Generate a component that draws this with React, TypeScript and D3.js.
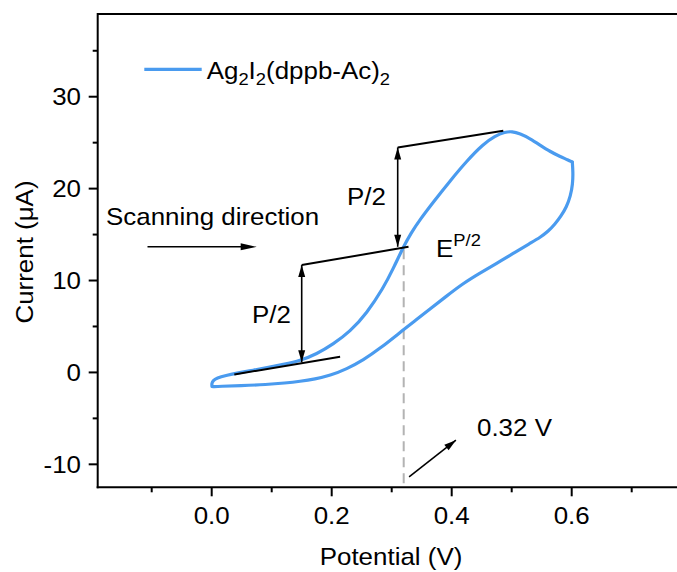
import React from 'react';
import * as d3 from 'd3';

const W = 677;
const H = 572;

// Cyclic voltammogram: forward (anodic) scan then reverse scan
const potential = [
  0.0005, 0.0, 0.0022, 0.0088, 0.0222, 0.0472, 0.0688, 0.0917, 0.1193, 0.1472, 0.175, 0.2027, 0.2305,
  0.2583, 0.286, 0.3027, 0.3193, 0.3322, 0.3472, 0.3693, 0.3972, 0.425, 0.4527, 0.4722, 0.4888, 0.5005,
  0.5138, 0.5305, 0.5472, 0.5638, 0.5805, 0.5938, 0.601,
  0.6022, 0.6017, 0.598, 0.5913, 0.5822, 0.5722, 0.5605, 0.5472, 0.5305, 0.5022, 0.475, 0.4472, 0.4193,
  0.3905, 0.3638, 0.3405, 0.3193, 0.2805, 0.2527, 0.225, 0.1972, 0.1722, 0.1472, 0.1222, 0.0917, 0.0472,
  0.0138, 0.0022,
];
const current = [
  -1.53, -1.21, -0.88, -0.61, -0.34, -0.01, 0.23, 0.51, 0.88, 1.27, 2.0, 3.09, 4.43,
  6.43, 9.18, 11.31, 13.64, 15.17, 16.64, 18.54, 20.83, 23.0, 24.85, 25.72, 26.16, 26.23,
  25.99, 25.45, 24.74, 24.04, 23.49, 23.13, 22.89,
  21.81, 20.5, 19.19, 17.99, 17.01, 16.14, 15.33, 14.68, 14.05, 12.94, 11.87, 10.82, 9.7,
  8.26, 6.9, 5.7, 4.63, 2.6, 1.35, 0.37, -0.34, -0.72, -0.97, -1.15, -1.32, -1.45,
  -1.51, -1.55,
];
const switchIndex = 32; // vertex potential (0.6 V) where the scan reverses

const xTicks = [0.0, 0.2, 0.4, 0.6];
const xMinorTicks = [-0.1, 0.1, 0.3, 0.5, 0.7];
const yTicks = [-10, 0, 10, 20, 30];
const yMinorTicks = [-5, 5, 15, 25, 35];

const seriesName = ['Ag', '2', 'I', '2', '(dppb-Ac)', '2'];

// Annotation geometry in data units [potential, current]
const baseline1 = [[0.0377, -0.22], [0.214, 1.70]];
const halfArrow1 = [[0.15, 11.68], [0.15, 1.1]];
const baseline2 = [[0.15, 11.68], [0.328, 13.67]];
const halfArrow2 = [[0.31, 24.48], [0.31, 13.67]];
const peakLine = [[0.31, 24.48], [0.486, 26.29]];
const ePhalf = 0.32;
const ePhalfTop = 13.4;
const scanArrow = [[-0.107, 13.67], [0.075, 13.67]];
const valueArrow = [[0.329, -11.36], [0.407, -7.37]];

const FONT = '"Liberation Sans", Arial, Helvetica, sans-serif';
const BLUE = '#4A9BEF';
const FS = 24;
const SX = 1.08;

function head(x1: number, y1: number, x2: number, y2: number, len: number, wid: number) {
  const dx = x2 - x1, dy = y2 - y1;
  const L = Math.hypot(dx, dy);
  const ux = dx / L, uy = dy / L;
  const bx = x2 - ux * len, by = y2 - uy * len;
  const px = -uy * wid / 2, py = ux * wid / 2;
  return `${x2},${y2} ${bx + px},${by + py} ${bx - px},${by - py}`;
}

function Txt(props: { x: number; y: number; size?: number; anchor?: string; rot?: number; sx?: number; children: any }) {
  const { x, y, size = FS, anchor = 'start', rot = 0, sx = SX, children } = props;
  return (
    <text
      transform={`translate(${x},${y}) rotate(${rot}) scale(${sx},1)`}
      fontFamily={FONT}
      fontSize={size}
      textAnchor={anchor}
      fill="#000"
    >
      {children}
    </text>
  );
}

export default function App() {
  const x = d3.scaleLinear().domain([-0.19, 0.79]).range([97.7, 685.7]);
  const y = d3.scaleLinear().domain([-12.5, 39]).range([487.3, 14]);
  const pts: [number, number][] = potential.map((p, i) => [p, current[i]]);
  const forward = pts.slice(0, switchIndex + 1);
  const reverse = pts.slice(switchIndex);
  const line = d3
    .line<[number, number]>()
    .x((d) => x(d[0]))
    .y((d) => y(d[1]))
    .curve(d3.curveBasis);

  const L = (a: number[][]) => ({ x1: x(a[0][0]), y1: y(a[0][1]), x2: x(a[1][0]), y2: y(a[1][1]) });
  const dbl = (a: number[][], key: string) => {
    const s = L(a);
    return (
      <g key={key}>
        <line {...s} stroke="#000" strokeWidth={1.6} />
        <polygon points={head(s.x1, s.y1, s.x2, s.y2, 12, 7)} fill="#000" />
        <polygon points={head(s.x2, s.y2, s.x1, s.y1, 12, 7)} fill="#000" />
      </g>
    );
  };

  const x0 = x.range()[0];
  const yb = y.range()[0];
  const yt = y.range()[1];
  const sa = L(scanArrow);
  const va = L(valueArrow);

  return (
    <svg width={W} height={H} style={{ position: 'absolute', left: 0, top: 0, background: '#fff' }}>
      <rect width={W} height={H} fill="#fff" />
      {/* frame */}
      <line x1={x0} y1={yt} x2={W + 10} y2={yt} stroke="#000" strokeWidth={2} />
      <line x1={x0} y1={yt - 1} x2={x0} y2={yb + 1} stroke="#000" strokeWidth={2} />
      <line x1={x0 - 1} y1={yb} x2={W + 10} y2={yb} stroke="#000" strokeWidth={2} />
      {/* x ticks */}
      {xTicks.map((t) => (
        <g key={'xt' + t}>
          <line x1={x(t)} x2={x(t)} y1={yb} y2={yb + 9} stroke="#000" strokeWidth={2} />
          <Txt x={x(t)} y={524} anchor="middle">{t.toFixed(1)}</Txt>
        </g>
      ))}
      {xMinorTicks.map((t) => (
        <line key={'xm' + t} x1={x(t)} x2={x(t)} y1={yb} y2={yb + 5} stroke="#000" strokeWidth={2} />
      ))}
      {/* y ticks */}
      {yTicks.map((t) => (
        <g key={'yt' + t}>
          <line x1={x0 - 9} x2={x0} y1={y(t)} y2={y(t)} stroke="#000" strokeWidth={2} />
          <Txt x={81} y={y(t) + 8.6} anchor="end">{String(t)}</Txt>
        </g>
      ))}
      {yMinorTicks.map((t) => (
        <line key={'ym' + t} x1={x0 - 5} x2={x0} y1={y(t)} y2={y(t)} stroke="#000" strokeWidth={2} />
      ))}
      {/* axis titles */}
      <Txt x={391} y={565} anchor="middle">Potential (V)</Txt>
      <Txt x={33} y={252} anchor="middle" rot={-90}>Current (μA)</Txt>

      {/* dashed E_P/2 line */}
      <line x1={x(ePhalf)} x2={x(ePhalf)} y1={y(ePhalfTop)} y2={yb - 1} stroke="#b3b3b3" strokeWidth={2} strokeDasharray="10,6" />

      {/* CV curve */}
      <path d={line(forward) || ''} fill="none" stroke={BLUE} strokeWidth={3.2} strokeLinecap="round" strokeLinejoin="round" />
      <path d={line(reverse) || ''} fill="none" stroke={BLUE} strokeWidth={3.2} strokeLinecap="round" strokeLinejoin="round" />

      {/* construction lines */}
      <line {...L(baseline1)} stroke="#000" strokeWidth={2} />
      <line {...L(baseline2)} stroke="#000" strokeWidth={2} />
      <line {...L(peakLine)} stroke="#000" strokeWidth={2} />
      {dbl(halfArrow1, 'a1')}
      {dbl(halfArrow2, 'a2')}

      {/* scanning direction arrow */}
      <line x1={sa.x1} y1={sa.y1} x2={sa.x2 - 8} y2={sa.y2} stroke="#000" strokeWidth={1.6} />
      <polygon points={head(sa.x1, sa.y1, sa.x2, sa.y2, 16, 7)} fill="#000" />
      <Txt x={106} y={225}>Scanning direction</Txt>

      {/* value arrow */}
      <line x1={va.x1} y1={va.y1} x2={va.x2} y2={va.y2} stroke="#000" strokeWidth={1.6} />
      <polygon points={head(va.x1, va.y1, va.x2, va.y2, 12, 7)} fill="#000" />
      <Txt x={477} y={436}>0.32 V</Txt>

      {/* labels */}
      <Txt x={347} y={205}>P/2</Txt>
      <Txt x={252} y={323}>P/2</Txt>
      <Txt x={436} y={257}>
        E<tspan fontSize={17} dy={-11}>P/2</tspan>
      </Txt>

      {/* legend */}
      <line x1={144.3} x2={201.7} y1={69.3} y2={69.3} stroke={BLUE} strokeWidth={3.2} />
      <Txt x={206.7} y={79}>
        {seriesName[0]}
        <tspan fontSize={17} dy={6}>{seriesName[1]}</tspan>
        <tspan dy={-6}>{seriesName[2]}</tspan>
        <tspan fontSize={17} dy={6}>{seriesName[3]}</tspan>
        <tspan dy={-6}>{seriesName[4]}</tspan>
        <tspan fontSize={17} dy={6}>{seriesName[5]}</tspan>
      </Txt>
    </svg>
  );
}
